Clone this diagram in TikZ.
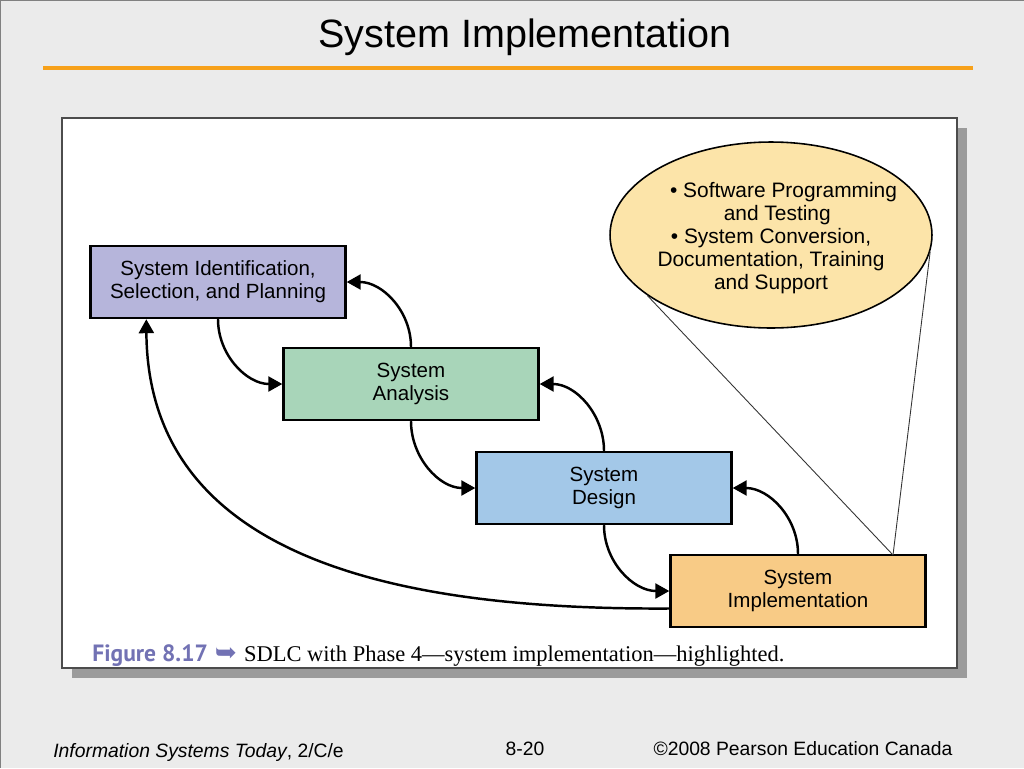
\documentclass[tikz,border=0pt]{standalone}
\usepackage{fontspec}
\setmainfont{Liberation Sans}
\newfontfamily\capserif{Liberation Serif}
\newfontfamily\capsans{PT Sans}
\newfontfamily\symfont{DejaVu Sans}
\usetikzlibrary{arrows.meta,positioning,calc,shapes.geometric}
\definecolor{Slide}{HTML}{EBEBEB}
\definecolor{Rule}{HTML}{F7A11A}
\definecolor{Shade}{HTML}{9B9B9B}
\definecolor{Plan}{HTML}{B6B5DB}
\definecolor{Analyse}{HTML}{A8D5B9}
\definecolor{Design}{HTML}{A3C8E8}
\definecolor{Implement}{HTML}{F8CB86}
\definecolor{Bubble}{HTML}{FCE4A9}
\definecolor{CapBlue}{HTML}{7272B4}
\tikzset{
  phase/.style={draw=black,line width=1.4pt,minimum width=5.1cm,minimum height=1.44cm,
    align=center,font=\fontsize{11.7}{13}\selectfont},
  flow/.style={line width=1.4pt,-{Triangle[length=2.8mm,width=3mm]}},
  callout/.style={line width=0.5pt,black!80}
}
\begin{document}
\begin{tikzpicture}[x=0.02cm,y=-0.02cm]
    % slide
    \fill[Slide] (0,0) rectangle (1024,768);
    \useasboundingbox (0,0) rectangle (1024,768);
    \draw[gray,line width=0.8pt] (0,768) -- (0,0) -- (1024,0);
    \node[font=\fontsize{22.5}{26}\selectfont,anchor=base] (title) at (525,47) {System Implementation};
    \draw[Rule,line width=2.4pt] (43,68) -- (973,68);
    % figure panel
    \fill[Shade] (72,128) rectangle (967,678);
    \draw[draw=black!70,fill=white,line width=0.6pt] (62,118) rectangle (957,668);
    % phases
    \node[phase,fill=Plan] (plan) at (218,282) {System Identification,\\Selection, and Planning};
    \node[phase,fill=Analyse] (ana) at (411,384) {System\\Analysis};
    \node[phase,fill=Design] (des) at (604,488) {System\\Design};
    \node[phase,fill=Implement] (imp) at (798,591) {System\\Implementation};
    \node[ellipse,draw=black,line width=0.9pt,fill=Bubble,minimum width=6.44cm,minimum height=3.72cm,inner sep=0pt] (tasks) at (771,235) {};
    \node[align=center,font=\fontsize{11.9}{13.2}\selectfont] (tasklist) at ([yshift=-0.06cm]tasks.center)
      {\hspace*{1.2em}\textbullet\ Software Programming\\\hspace*{0.6em}and Testing\\\textbullet\ System Conversion,\\Documentation, Training\\and Support};
    \coordinate (focus) at (893,555);
    \draw[callout] (tasks.206) -- (focus);\draw[callout] (tasks.-6) -- (focus);
    % forward and backward steps
    \draw[flow] (plan.south) to[out=-90,in=180] (ana.west);
    \draw[flow] (ana.north) to[out=90,in=0] (plan.east);
    \draw[flow] (ana.south) to[out=-90,in=180] (des.west);
    \draw[flow] (des.north) to[out=90,in=0] (ana.east);
    \draw[flow] (des.south) to[out=-90,in=180] (imp.west);
    \draw[flow] (imp.north) to[out=90,in=0] (des.east);
    \draw[flow] ([yshift=-0.35cm]imp.west) .. controls (400,610) and (148,560) .. ([xshift=1.14cm]plan.south west);
    % caption
    \node[anchor=base west,inner sep=0pt] (cap) at (92,661)
      {{\fontsize{13.4}{15}\selectfont\capsans\bfseries\color{CapBlue}Figure 8.17}\hspace{4pt}{\fontsize{15}{15}\selectfont\symfont\color{CapBlue}\char"27A5}\hspace{4pt}{\fontsize{12.8}{15}\selectfont\capserif SDLC with Phase 4—system implementation—highlighted.}};
    % footer
    \node[anchor=base west,inner sep=0pt,font=\fontsize{11}{13}\selectfont] (book) at (53,757) {\textit{Information Systems Today}, 2/C/e};
    \node[anchor=base,inner sep=0pt,font=\fontsize{11}{13}\selectfont] (page) at (525,755) {8-20};
    \node[anchor=base,inner sep=0pt,font=\fontsize{11}{13}\selectfont] (copy) at (803,755) {©2008 Pearson Education Canada};
\end{tikzpicture}
\end{document}
